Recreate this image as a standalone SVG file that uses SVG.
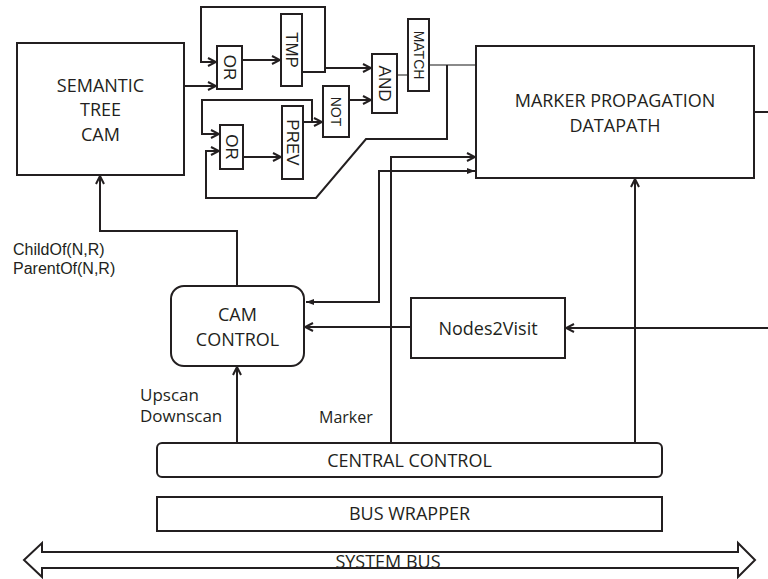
<svg xmlns="http://www.w3.org/2000/svg" width="768" height="579" viewBox="0 0 768 579">
<style>
.box{fill:#fff;stroke:#231f20;stroke-width:2}
.gate{fill:#fff;stroke:#231f20;stroke-width:2}
.t{font-family:"Open Sans","Liberation Sans",sans-serif;font-size:18px;fill:#231f20;text-anchor:middle}
.lab{font-family:"Open Sans","Liberation Sans",sans-serif;font-size:16px;fill:#231f20}
.lab2{font-family:"Liberation Sans","Arial",sans-serif;font-size:16px;fill:#231f20}
.g{font-family:"Liberation Sans","Arial",sans-serif;font-size:17px;fill:#231f20;text-anchor:middle;dominant-baseline:central}
.gs{font-size:14px}
.w{fill:none;stroke:#231f20;stroke-width:2}
.gray{fill:none;stroke:#8a8a8a;stroke-width:2}
</style>
<defs>
<marker id="open" viewBox="0 0 10 10" refX="9" refY="5" markerWidth="10" markerHeight="10" markerUnits="userSpaceOnUse" orient="auto"><path d="M1,1 L9,5 L1,9" fill="none" stroke="#231f20" stroke-width="2"/></marker>
<marker id="fill" viewBox="0 0 8 8" refX="8" refY="4" markerWidth="8" markerHeight="8" markerUnits="userSpaceOnUse" orient="auto-start-reverse"><path d="M0,1 L8,4 L0,7 z" fill="#231f20"/></marker>
</defs>

<g id="connectors">
<path class="w" d="M184,86 H216" marker-end="url(#open)"/>
<path class="w" d="M242,60 H280" marker-end="url(#open)"/>
<path class="w" d="M302,72 H325 V7 H201 V62 H216" marker-end="url(#open)"/>
<path class="w" d="M325,68 H371" marker-end="url(#open)"/>
<path class="w" d="M349,100 H371" marker-end="url(#open)"/>
<path class="gray" d="M397,75 H408"/>
<path class="gray" d="M429,65 H476"/>
<path class="w" d="M447,65 V139 H366 L316,198 H206 V151 H219" marker-end="url(#open)"/>
<path class="w" d="M243,157 H281" marker-end="url(#open)"/>
<path class="w" d="M303,122 H322" marker-end="url(#open)"/>
<path class="w" d="M312,122 V100 H202 V134 H219" marker-end="url(#open)"/>
<path class="w" d="M391,443 V157 H475" marker-end="url(#open)"/>
<path class="w" d="M475,171 H379 V302 H306" marker-start="url(#fill)" marker-end="url(#fill)"/>
<path class="w" d="M237,286 V231 H100 V176" marker-end="url(#open)"/>
<path class="w" d="M237,443 V367" marker-end="url(#open)"/>
<path class="w" d="M635,443 V179" marker-end="url(#open)"/>
<path class="w" d="M411,327 H305" marker-end="url(#open)"/>
<path class="w" d="M768,328 H566" marker-end="url(#open)"/>
<path class="w" d="M754,112 H768"/>
</g>

<g id="semantic-tree-cam">
<rect class="box" x="17" y="43" width="167" height="132"/>
<text class="t" x="100.5" y="92">SEMANTIC</text>
<text class="t" x="100.5" y="116">TREE</text>
<text class="t" x="100.5" y="141">CAM</text>
</g>

<g id="or1">
<rect class="gate" x="217" y="46" width="25" height="43"/>
<text class="g" transform="translate(229.5,67.5) rotate(90)">OR</text>
</g>
<g id="tmp">
<rect class="gate" x="281" y="14" width="21" height="72"/>
<text class="g" transform="translate(291.5,50) rotate(90)">TMP</text>
</g>
<g id="and">
<rect class="gate" x="372" y="54" width="25" height="59"/>
<text class="g" transform="translate(384.5,83.5) rotate(90)">AND</text>
</g>
<g id="match">
<rect class="gate" x="408" y="19" width="21" height="72"/>
<text class="g gs" transform="translate(418.5,55) rotate(90)">MATCH</text>
</g>
<g id="not">
<rect class="gate" x="323" y="86" width="26" height="51"/>
<text class="g gs" transform="translate(336,111.5) rotate(90)">NOT</text>
</g>
<g id="or2">
<rect class="gate" x="220" y="125" width="23" height="44"/>
<text class="g" transform="translate(231.5,147) rotate(90)">OR</text>
</g>
<g id="prev">
<rect class="gate" x="282" y="106" width="21" height="73"/>
<text class="g" transform="translate(292.5,142.5) rotate(90)">PREV</text>
</g>

<g id="marker-propagation-datapath">
<rect class="box" x="476" y="46" width="278" height="132"/>
<text class="t" x="615" y="107">MARKER PROPAGATION</text>
<text class="t" x="615" y="132">DATAPATH</text>
</g>

<g id="cam-control">
<rect class="box" x="171" y="286" width="133" height="80" rx="13"/>
<text class="t" x="237.5" y="321">CAM</text>
<text class="t" x="237.5" y="346">CONTROL</text>
</g>

<g id="nodes2visit">
<rect class="box" x="411" y="298" width="154" height="60"/>
<text class="t" x="488" y="335">Nodes2Visit</text>
</g>

<g id="central-control">
<rect class="box" x="157" y="443" width="505" height="34" rx="5"/>
<text class="t" x="409.5" y="467">CENTRAL CONTROL</text>
</g>

<g id="bus-wrapper">
<rect class="box" x="157" y="497" width="505" height="34"/>
<text class="t" x="409.5" y="520">BUS WRAPPER</text>
</g>

<g id="system-bus">
<polygon points="24,560 42,543 42,552 738,552 738,543 755,560 738,577 738,568 42,568 42,577" fill="#fff" stroke="#231f20" stroke-width="2"/>
<text class="t" x="388" y="568">SYSTEM BUS</text>
</g>

<g id="labels">
<text class="lab2" x="13" y="255">ChildOf(N,R)</text>
<text class="lab2" x="13" y="274">ParentOf(N,R)</text>
<text class="lab" x="140" y="401" style="font-size:17px">Upscan</text>
<text class="lab" x="140" y="422" style="font-size:17px">Downscan</text>
<text class="lab" x="319" y="423">Marker</text>
</g>
</svg>
